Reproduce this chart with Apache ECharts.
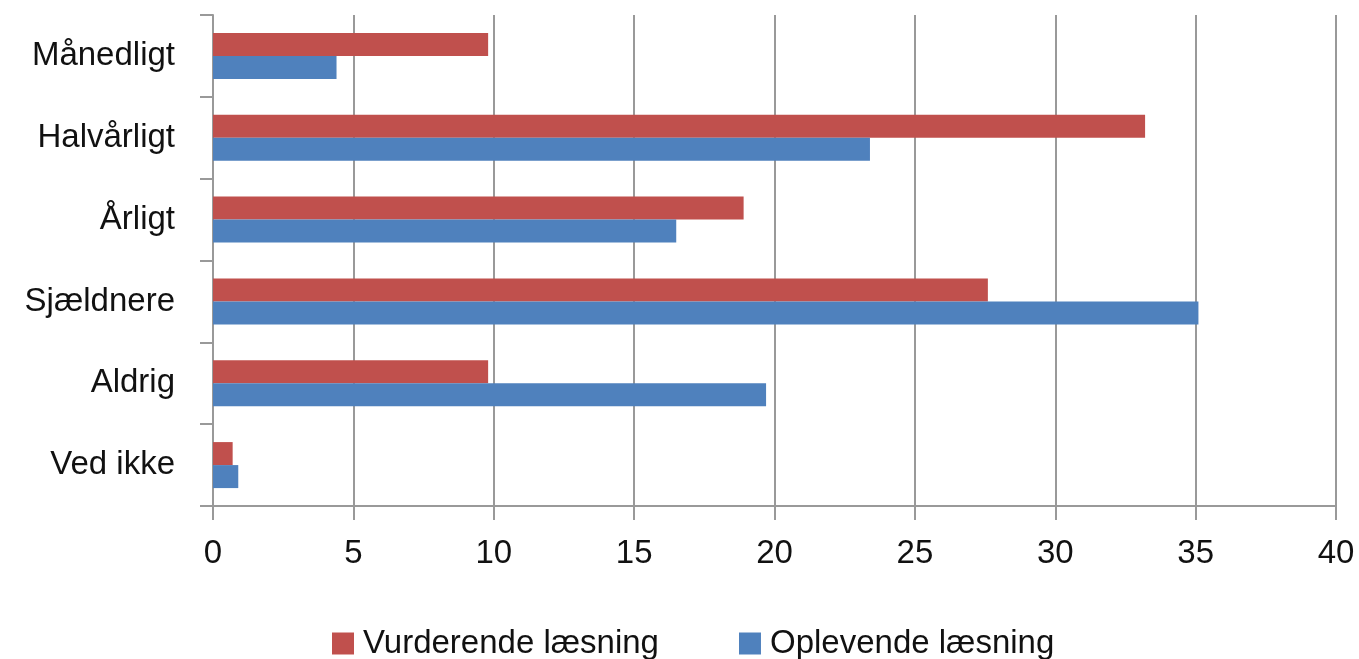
<!DOCTYPE html>
<html>
<head>
<meta charset="utf-8">
<script src="https://cdn.jsdelivr.net/npm/echarts@6/dist/echarts.min.js"></script>
<style>
	html, body { margin: 0; padding: 0; background: #fff; }
	#chart { width: 1359px; height: 659px; }
</style>
</head>
<body>
<div id="chart"></div>
<script>
// kategorier og værdier
var categories = [ 'Månedligt', 'Halvårligt', 'Årligt', 'Sjældnere', 'Aldrig', 'Ved ikke' ];
var vurderende = [ 9.8, 33.2, 18.9, 27.6, 9.8, 0.7 ];
var oplevende = [ 4.4, 23.4, 16.5, 35.1, 19.7, 0.9 ];
var seriesNames = [ 'Vurderende læsning', 'Oplevende læsning' ];

var fontName = '"Liberation Sans", sans-serif';

var chart = echarts.init(document.getElementById('chart'));
var option = {
	animation : false,
	textStyle : { fontFamily : fontName },
	grid : {
		left : 213,
		right : 23,
		top : 15,
		bottom : 153
	},
	legend : {
		data : seriesNames,
		top : 622,
		left : 327,
		itemWidth : 22,
		itemHeight : 22,
		itemGap : 80,
		icon : 'rect',
		textStyle : { fontSize : 33, color : '#111', fontFamily : fontName, padding : [ 0, 0, 0, 4 ] }
	},
	xAxis : {
		type : 'value',
		min : 0,
		max : 40,
		interval : 5,
		axisLine : { show : true, lineStyle : { color : '#999', width : 2 } },
		axisTick : { show : true, length : 14, lineStyle : { color : '#999', width : 2 } },
		splitLine : { show : true, lineStyle : { color : '#999', width : 2 } },
		axisLabel : { fontSize : 33, color : '#111', margin : 31 }
	},
	yAxis : {
		type : 'category',
		data : categories,
		inverse : true,
		axisLine : { show : true, lineStyle : { color : '#999', width : 2 } },
		axisTick : { show : true, length : 13, lineStyle : { color : '#999', width : 2 } },
		axisLabel : { fontSize : 33, color : '#111', margin : 38 }
	},
	series : [ {
		name : seriesNames[0],
		type : 'bar',
		data : vurderende,
		barWidth : 23,
		barGap : '0%',
		itemStyle : { color : '#C0504D' }
	}, {
		name : seriesNames[1],
		type : 'bar',
		data : oplevende,
		barWidth : 23,
		barGap : '0%',
		itemStyle : { color : '#4F81BD' }
	} ]
};
chart.setOption(option);
</script>
</body>
</html>
